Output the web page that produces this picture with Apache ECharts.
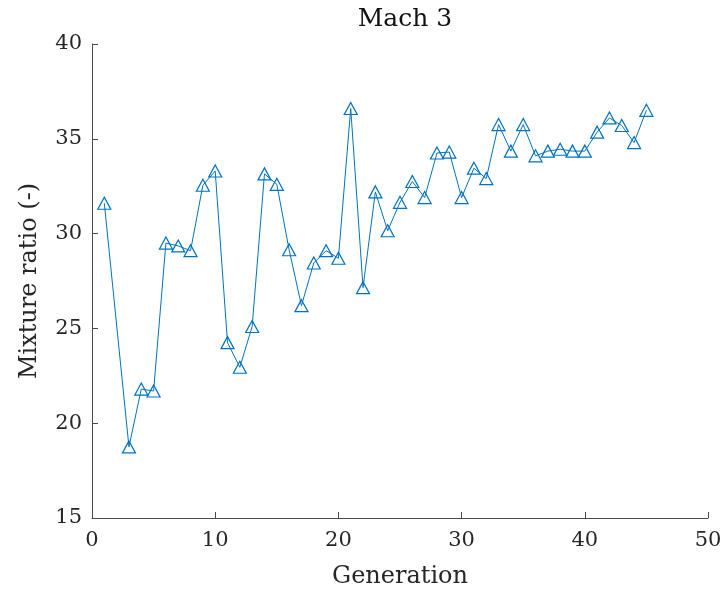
<!DOCTYPE html>
<html>
<head>
<meta charset="utf-8">
<script src="https://cdn.jsdelivr.net/npm/echarts@6/dist/echarts.min.js"></script>
<style>
  html, body { margin: 0; padding: 0; background: #fff; }
  #chart { width: 723px; height: 591px; }
</style>
</head>
<body>
<div id="chart"></div>
<script>
const generations = [1, 3, 4, 5, 6, 7, 8, 9, 10, 11, 12, 13, 14, 15, 16, 17, 18, 19, 20,
  21, 22, 23, 24, 25, 26, 27, 28, 29, 30, 31, 32, 33, 34, 35, 36, 37, 38, 39, 40,
  41, 42, 43, 44, 45];
const mixtureRatio = [31.6, 18.75, 21.8, 21.7, 29.5, 29.35, 29.1, 32.55, 33.3, 24.25,
  22.95, 25.1, 33.15, 32.6, 29.15, 26.2, 28.45, 29.1, 28.7, 36.6, 27.15, 32.2, 30.15,
  31.65, 32.75, 31.9, 34.25, 34.3, 31.9, 33.45, 32.9, 35.75, 34.35, 35.75, 34.1, 34.35,
  34.45, 34.35, 34.35, 35.35, 36.1, 35.7, 34.8, 36.5];

const font = '"DejaVu Serif", "Liberation Serif", serif';
const axisGray = '#4a4a4a';
const textColor = '#262626';

let chart = echarts.init(document.getElementById('chart'));
const option = {
  animation: false,
  title: {
    text: 'Mach 3',
    left: 400,
    textAlign: 'center',
    top: 2,
    textStyle: { fontFamily: font, fontSize: 25, fontWeight: 'normal', color: '#111' }
  },
  grid: { left: 92, right: 15, top: 44, bottom: 73, outerBoundsMode: 'none' },
  xAxis: {
    type: 'value',
    min: 0, max: 50, interval: 10,
    name: 'Generation',
    nameLocation: 'middle',
    nameGap: 47,
    nameTextStyle: { fontFamily: font, fontSize: 24, color: textColor },
    axisLine: { lineStyle: { color: axisGray, width: 1 } },
    axisTick: { inside: true, length: 6, lineStyle: { color: axisGray } },
    axisLabel: { fontFamily: font, fontSize: 21, color: textColor, margin: 12 },
    splitLine: { show: false }
  },
  yAxis: {
    type: 'value',
    min: 15, max: 40, interval: 5,
    name: 'Mixture ratio (-)',
    nameLocation: 'middle',
    nameGap: 50,
    nameTextStyle: { fontFamily: font, fontSize: 24, color: textColor },
    axisLine: { show: true, lineStyle: { color: axisGray, width: 1 } },
    axisTick: { show: true, inside: true, length: 6, lineStyle: { color: axisGray } },
    axisLabel: { fontFamily: font, fontSize: 21, color: textColor, margin: 10 },
    splitLine: { show: false }
  },
  series: [
    {
      type: 'line',
      data: generations.map((g, i) => [g, mixtureRatio[i]]),
      symbol: 'triangle',
      symbolSize: [13, 12],
      showAllSymbol: true,
      lineStyle: { color: '#0072BD', width: 1 },
      itemStyle: { color: 'rgba(255,255,255,0)', borderColor: '#0072BD', borderWidth: 1.2 }
    }
  ]
};
chart.setOption(option);
</script>
</body>
</html>
